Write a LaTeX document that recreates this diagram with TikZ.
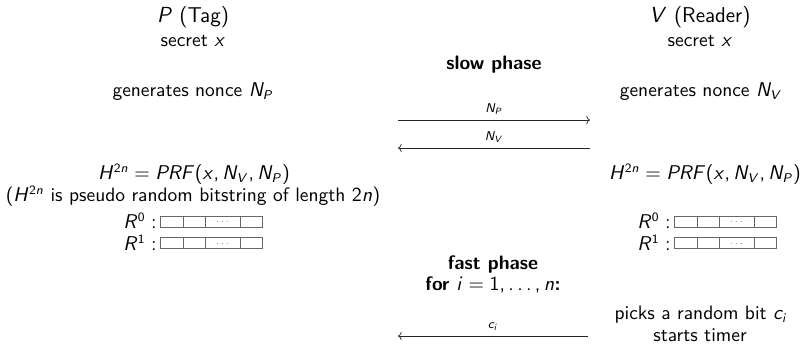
\documentclass[tikz,border=0pt]{standalone}
\usetikzlibrary{arrows.meta}
\renewcommand\familydefault{\sfdefault}
% sans-serif math, as in beamer
\DeclareSymbolFont{sfit}{OT1}{cmss}{m}{sl}
\SetSymbolFont{operators}{normal}{OT1}{cmss}{m}{n}
\SetSymbolFont{operators}{bold}{OT1}{cmss}{bx}{n}
\DeclareMathSymbol{,}{\mathpunct}{operators}{"2C}
\DeclareMathSymbol{\ldotp}{\mathpunct}{operators}{"2E}
\makeatletter
\count@=65
\loop
  \mathcode\count@=\numexpr"7000+\symsfit*"100+\count@\relax
  \advance\count@ 1
\ifnum\count@<91\repeat
\count@=97
\loop
  \mathcode\count@=\numexpr"7000+\symsfit*"100+\count@\relax
  \advance\count@ 1
\ifnum\count@<123\repeat
\makeatother
\tikzset{
  txt/.style={inner sep=0pt, font=\fontsize{10.7}{13}\selectfont},
  big/.style={inner sep=0pt, font=\fontsize{11.8}{14}\selectfont},
  lbl/.style={inner sep=0pt, font=\fontsize{7.5}{9}\selectfont},
  msg/.style={draw=black!85, line width=0.4pt, -{To[length=2pt,width=4.5pt]}},
  boxline/.style={draw=black!60, line width=0.55pt},
  dotlbl/.style={inner sep=0pt, text=black!60, font=\fontsize{5}{6}\selectfont},
  bitrow/.pic={
    \draw[boxline] (0,-5.5) rectangle (102,5.5);
    \draw[boxline] (23,-5.5) -- (23,5.5);
    \draw[boxline] (45,-5.5) -- (45,5.5);
    \draw[boxline] (80,-5.5) -- (80,5.5);
    \node[dotlbl] (dots) at (62.5,0.5) {$\ldots$};
  }
}
\begin{document}
\begin{tikzpicture}[x=0.55pt,y=-0.55pt]
\useasboundingbox (0,0) rectangle (801,345);
% prover column
\node[big] (ptag) at (193,17) {$P$ (Tag)};
\node[txt] (psec) at (193,41) {secret $x$};
\node[txt] (pgen) at (193,92) {generates nonce $N_P$};
\node[txt] (ph) at (194,174) {$H^{2n} = PRF(x, N_V, N_P)$};
\node[txt] (pnote) at (193,196) {($H^{2n}$ is pseudo random bitstring of length $2n$)};
\node[txt, anchor=east] (pr0) at (157,221) {$R^0:$};
\node[txt, anchor=east] (pr1) at (157,243) {$R^1:$};
\pic (pb0) at (160,222) {bitrow};
\pic (pb1) at (160,243.5) {bitrow};
% verifier column
\node[big] (vtag) at (700,17) {$V$ (Reader)};
\node[txt] (vsec) at (700,41) {secret $x$};
\node[txt] (vgen) at (701,92) {generates nonce $N_V$};
\node[txt] (vh) at (705,174) {$H^{2n} = PRF(x, N_V, N_P)$};
\node[txt, anchor=east] (vr0) at (671,221) {$R^0:$};
\node[txt, anchor=east] (vr1) at (671,243) {$R^1:$};
\pic (vb0) at (674,222) {bitrow};
\pic (vb1) at (674,243.5) {bitrow};
\node[txt] (vpick) at (701,315) {picks a random bit $c_i$};
\node[txt] (vtimer) at (700,335) {starts timer};
% middle
\node[txt] (slow) at (494,65) {\textbf{slow phase}};
\node[txt] (fast) at (493,265) {\textbf{fast phase}};
\node[txt] (fori) at (493,285) {\textbf{for $i = 1, \ldots, n$:}};
% messages
\coordinate (m1s) at (398,120);
\coordinate (m1e) at (590,120);
\coordinate (m2s) at (590,148);
\coordinate (m2e) at (398,148);
\coordinate (m3s) at (588,336);
\coordinate (m3e) at (398,336);
\draw[msg] (m1s) -- (m1e) node[lbl, midway, above=3pt] (l1) {$N_P$};
\draw[msg] (m2s) -- (m2e) node[lbl, midway, above=3pt] (l2) {$N_V$};
\draw[msg] (m3s) -- (m3e) node[lbl, midway, above=3pt] (l3) {$c_i$};
\end{tikzpicture}
\end{document}
